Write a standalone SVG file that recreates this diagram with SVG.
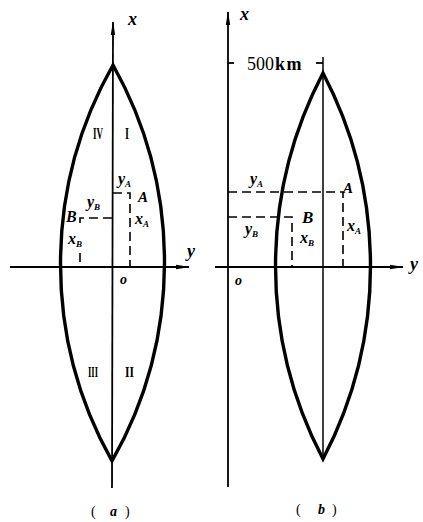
<svg xmlns="http://www.w3.org/2000/svg" width="423" height="522" viewBox="0 0 423 522">
<defs>
<marker id="arr" viewBox="0 0 14 6" refX="13" refY="3" markerWidth="14" markerHeight="6" markerUnits="userSpaceOnUse" orient="auto">
<path d="M0,0.8 L14,3 L0,5.2 Z" fill="#000"/>
</marker>
<style>
.ax{stroke:#000;stroke-width:1.8;fill:none}
.cl{stroke:#000;stroke-width:1.5;fill:none}
.lens{stroke:#000;stroke-width:3.4;fill:none;stroke-linejoin:miter}
.dash{stroke:#000;stroke-width:1.6;fill:none;stroke-dasharray:9 5}
.lbl{font-family:"Liberation Serif",serif;font-style:italic;font-weight:bold;fill:#000}
.rom{font-family:"Liberation Serif",serif;font-weight:bold;fill:#000}
.num{font-family:"Liberation Serif",serif;fill:#000}
</style>
</defs>
<rect width="423" height="522" fill="#fff"/>

<g id="connectors">
<!-- panel a axes -->
<line class="ax" x1="112" y1="488" x2="113" y2="22" marker-end="url(#arr)"/>
<line class="ax" x1="10" y1="267" x2="189" y2="267" marker-end="url(#arr)"/>
<!-- panel a dashed -->
<path class="dash" d="M113 193 H130 V267"/>
<path class="dash" d="M112 218 H80 V227"/>
<path class="dash" d="M80 253 V267"/>
<!-- panel b axes -->
<line class="ax" x1="228" y1="487" x2="228" y2="12" marker-end="url(#arr)"/>
<line class="ax" x1="215" y1="267" x2="403" y2="267" marker-end="url(#arr)"/>
<line class="ax" x1="228" y1="63" x2="234" y2="63"/>
<line class="cl" x1="323" y1="57" x2="323" y2="459"/>
<line class="ax" x1="316" y1="63" x2="323" y2="63"/>
<!-- panel b dashed -->
<path class="dash" d="M228 192 H343 V267"/>
<path class="dash" d="M228 217 H292 V267"/>
</g>

<g id="lens-a">
<path class="lens" d="M113 65 A403 403 0 0 1 112 461 A403 403 0 0 1 113 65 Z"/>
</g>
<g id="lens-b">
<path class="lens" d="M323 73 A416 416 0 0 1 323 459 A416 416 0 0 1 323 73 Z"/>
</g>

<g id="labels-a">
<text class="lbl" x="128" y="25" font-size="18">x</text>
<text class="lbl" x="187" y="257" font-size="18">y</text>
<text class="lbl" x="120" y="284" font-size="14">o</text>
<text class="rom" x="93" y="139" font-size="17" textLength="10" lengthAdjust="spacingAndGlyphs">IV</text>
<text class="rom" x="125" y="139" font-size="17" textLength="4" lengthAdjust="spacingAndGlyphs">I</text>
<text class="rom" x="88" y="377" font-size="15" textLength="10" lengthAdjust="spacingAndGlyphs">III</text>
<text class="rom" x="125" y="377" font-size="15" textLength="9" lengthAdjust="spacingAndGlyphs">II</text>
<text class="lbl" x="118" y="184" font-size="16">y<tspan font-size="9" dy="3">A</tspan></text>
<text class="lbl" x="138" y="202" font-size="15">A</text>
<text class="lbl" x="135" y="224" font-size="16">x<tspan font-size="9" dy="3">A</tspan></text>
<text class="lbl" x="66" y="222" font-size="16">B</text>
<text class="lbl" x="87" y="207" font-size="16">y<tspan font-size="9" dy="3">B</tspan></text>
<text class="lbl" x="68" y="244" font-size="16">x<tspan font-size="9" dy="3">B</tspan></text>
<text class="lbl" y="516" font-size="14"><tspan x="91" font-style="normal" font-weight="normal">(</tspan><tspan x="110">a</tspan><tspan x="125" font-style="normal" font-weight="normal">)</tspan></text>
</g>

<g id="labels-b">
<text class="lbl" x="240" y="20" font-size="18">x</text>
<text class="num" x="247" y="70" font-size="18">500<tspan font-weight="bold" letter-spacing="1.5" dx="1">km</tspan></text>
<text class="lbl" x="410" y="270" font-size="18">y</text>
<text class="lbl" x="235" y="285" font-size="14">o</text>
<text class="lbl" x="250" y="184" font-size="16">y<tspan font-size="9" dy="3">A</tspan></text>
<text class="lbl" x="343" y="193" font-size="15">A</text>
<text class="lbl" x="347" y="231" font-size="16">x<tspan font-size="9" dy="3">A</tspan></text>
<text class="lbl" x="302" y="223" font-size="17" font-weight="normal">B</text>
<text class="lbl" x="245" y="234" font-size="16">y<tspan font-size="9" dy="3">B</tspan></text>
<text class="lbl" x="300" y="243" font-size="16" font-weight="normal">x<tspan font-size="9" dy="3">B</tspan></text>
<text class="lbl" y="514" font-size="14"><tspan x="296" font-style="normal" font-weight="normal">(</tspan><tspan x="318">b</tspan><tspan x="332" font-style="normal" font-weight="normal">)</tspan></text>
</g>
</svg>
